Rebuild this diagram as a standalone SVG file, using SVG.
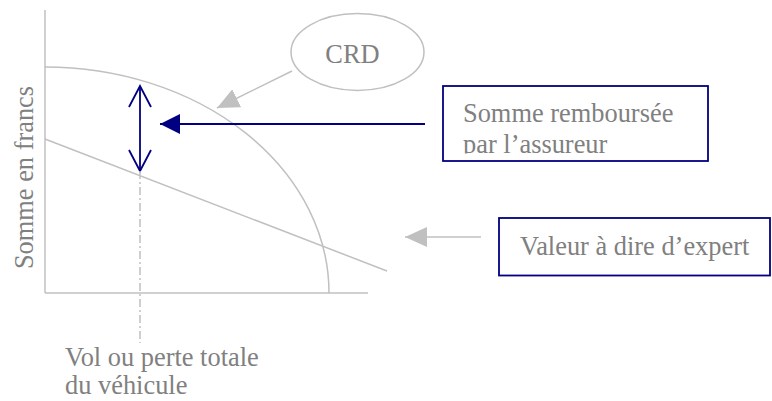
<svg xmlns="http://www.w3.org/2000/svg" width="772" height="401" viewBox="0 0 772 401">
<style>
  .txt { font-family: "Liberation Serif", "Times New Roman", serif; font-size: 26.4px; fill: #808080; }
  .grey { stroke: #c0c0c0; stroke-width: 1.5; fill: none; }
  .blue { stroke: #000080; stroke-width: 1.8; fill: none; }
  .box { stroke: #000080; stroke-width: 1.8; fill: #ffffff; }
</style>
<defs>
  <marker id="greyHead" markerUnits="userSpaceOnUse" viewBox="0 0 22 20" refX="22" refY="10" markerWidth="22" markerHeight="20" orient="auto">
    <path d="M0,0 L22,10 L0,20 z" fill="#c0c0c0"/>
  </marker>
  <marker id="blueHead" markerUnits="userSpaceOnUse" viewBox="0 0 20 20" refX="20" refY="10" markerWidth="20" markerHeight="20" orient="auto">
    <path d="M0,0 L20,10 L0,20 z" fill="#000080"/>
  </marker>
  <marker id="openHead" markerUnits="userSpaceOnUse" viewBox="-2 -2 26 28" refX="21" refY="11" markerWidth="26" markerHeight="28" orient="auto-start-reverse">
    <path d="M0,0 L21,11 L0,22" fill="none" stroke="#000080" stroke-width="1.8"/>
  </marker>
  <clipPath id="clipBox1">
    <rect x="444" y="87" width="263" height="66.5"/>
  </clipPath>
</defs>

<g id="axes">
  <line class="grey" x1="45" y1="10" x2="45" y2="293"/>
  <line class="grey" x1="45" y1="293" x2="368" y2="293"/>
  <text class="txt" transform="translate(33,177.5) rotate(-90)" text-anchor="middle">Somme en francs</text>
</g>

<g id="curves">
  <path class="grey" d="M45,67 A284,226 0 0 1 329,293"/>
  <line class="grey" x1="45" y1="139" x2="387" y2="271"/>
</g>

<g id="connectors">
  <line class="grey" x1="292" y1="71" x2="217" y2="108" marker-end="url(#greyHead)"/>
  <line class="grey" x1="481" y1="237" x2="405" y2="237" marker-end="url(#greyHead)"/>
  <line class="blue" x1="425" y1="124" x2="160" y2="124" marker-end="url(#blueHead)"/>
  <line class="blue" x1="140" y1="86" x2="140" y2="171" marker-start="url(#openHead)" marker-end="url(#openHead)"/>
  <line x1="140" y1="171" x2="140" y2="343" stroke="#c0c0c0" stroke-width="1.5" stroke-dasharray="8,3,2,3"/>
</g>

<g id="crd">
  <ellipse cx="357.5" cy="52" rx="66.5" ry="38.5" class="grey"/>
  <text class="txt" x="352.5" y="63" text-anchor="middle">CRD</text>
</g>

<g id="somme-remboursee">
  <rect class="box" x="443" y="86" width="265" height="75"/>
  <g clip-path="url(#clipBox1)">
    <text class="txt" x="463" y="121.5">Somme remboursée</text>
    <text class="txt" x="463" y="152.5">par l’assureur</text>
  </g>
</g>

<g id="valeur-expert">
  <rect class="box" x="499" y="218" width="271" height="57.5"/>
  <text class="txt" x="520" y="255">Valeur à dire d’expert</text>
</g>

<g id="vol-label">
  <text class="txt" x="65" y="365.5">Vol ou perte totale</text>
  <text class="txt" x="65" y="394">du véhicule</text>
</g>
</svg>
